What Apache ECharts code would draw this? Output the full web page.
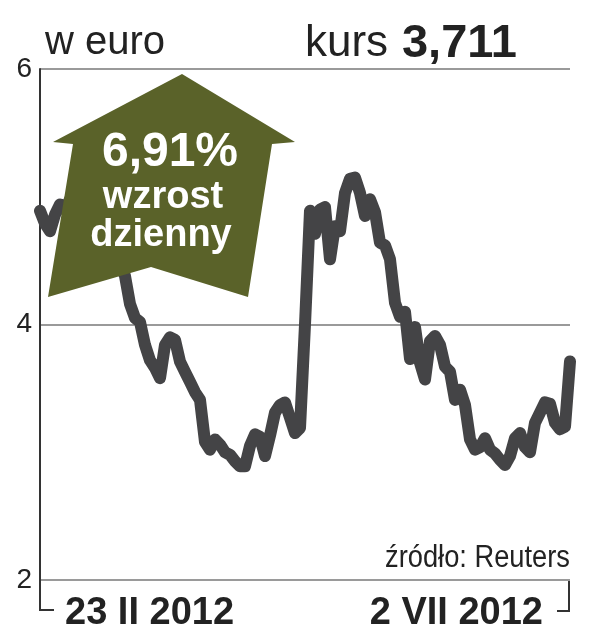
<!DOCTYPE html>
<html><head><meta charset="utf-8">
<script src="https://cdn.jsdelivr.net/npm/echarts@6/dist/echarts.min.js"></script>
<style>html,body{margin:0;padding:0;background:#fff}#c{width:605px;height:640px}</style>
</head><body><div id="c"></div>
<script>
// Share price in euro, 23 II 2012 - 2 VII 2012
const values = [
  4.89, 4.79, 4.73, 4.86, 4.94, 4.90, 4.98, 4.94, 4.86, 4.90,
  4.78, 4.74, 4.67, 4.71, 4.59, 4.51, 4.47, 4.38, 4.16, 4.05,
  4.02, 3.84, 3.72, 3.66, 3.58, 3.84, 3.90, 3.88, 3.71, 3.63,
  3.55, 3.47, 3.41, 3.08, 3.02, 3.10, 3.06, 3.00, 2.98, 2.93,
  2.89, 2.89, 3.05, 3.14, 3.12, 2.97, 3.13, 3.31, 3.37, 3.39,
  3.27, 3.15, 3.19, 4.00, 4.89, 4.71, 4.90, 4.92, 4.51, 4.77,
  4.73, 5.03, 5.14, 5.15, 5.03, 4.85, 4.98, 4.88, 4.64, 4.62,
  4.51, 4.17, 4.06, 4.10, 3.73, 3.98, 3.70, 3.57, 3.87, 3.91,
  3.84, 3.67, 3.63, 3.41, 3.49, 3.37, 3.10, 3.02, 3.04, 3.11,
  3.02, 2.99, 2.94, 2.90, 2.97, 3.11, 3.15, 3.04, 3.00, 3.23,
  3.31, 3.39, 3.38, 3.23, 3.18, 3.20, 3.711
];
const categories = values.map((_, i) => 'd' + i);
const yTicks = [2, 4, 6];
const dateLabels = ['23 II 2012', '2 VII 2012'];
const unitLabel = 'w euro';
const priceLabel = 'kurs';
const lastPrice = '3,711';
const changeLines = ['6,91%', 'wzrost', 'dzienny'];
const sourceLabel = 'źródło: Reuters';

const chart = echarts.init(document.getElementById('c'), null, {renderer: 'canvas'});
const dark = '#222222';
const option = {
  animation: false,
  backgroundColor: '#ffffff',
  grid: {left: 40, right: 35, top: 69, bottom: 60, containLabel: false},
  xAxis: {
    type: 'category', data: categories, boundaryGap: false,
    axisLine: {show: false}, axisTick: {show: false}, axisLabel: {show: false},
    splitLine: {show: false}
  },
  yAxis: {
    type: 'value', min: yTicks[0], max: yTicks[yTicks.length - 1], interval: 2,
    axisLine: {show: true, lineStyle: {color: '#333', width: 2}},
    axisTick: {show: false},
    axisLabel: {color: dark, fontSize: 28, fontFamily: 'Liberation Sans', margin: 8},
    splitLine: {show: true, lineStyle: {color: '#9a9a9a', width: 2}}
  },
  series: [{
    type: 'line', data: values, showSymbol: false, smooth: false, z: 3,
    lineStyle: {color: '#444446', width: 12, cap: 'round', join: 'round'}
  }],
  graphic: [
    {type: 'polyline', z: 5, shape: {points: [[40, 580], [40, 610], [54, 610]]},
     style: {stroke: '#333', lineWidth: 2, fill: null}},
    {type: 'polyline', z: 5, shape: {points: [[569, 581], [569, 611], [557, 611]]},
     style: {stroke: '#333', lineWidth: 2, fill: null}},
    {type: 'polygon', z: 10,
     shape: {points: [[182, 74], [295, 142], [272, 144], [248, 297], [151, 267], [48, 297], [73, 144], [53, 142]]},
     style: {fill: '#5a6229'}},
    {type: 'text', z: 11, style: {text: changeLines[0], x: 170, y: 153, textAlign: 'center', textVerticalAlign: 'middle',
      font: 'bold 48px "Liberation Sans"', fill: '#ffffff'}},
    {type: 'text', z: 11, style: {text: changeLines[1], x: 163, y: 198, textAlign: 'center', textVerticalAlign: 'middle',
      font: 'bold 38px "Liberation Sans"', fill: '#ffffff'}},
    {type: 'text', z: 11, style: {text: changeLines[2], x: 161, y: 236, textAlign: 'center', textVerticalAlign: 'middle',
      font: 'bold 38px "Liberation Sans"', fill: '#ffffff'}},
    {type: 'text', z: 11, style: {text: unitLabel, x: 45, y: 43, textAlign: 'left', textVerticalAlign: 'middle',
      font: '40px "Liberation Sans"', fill: dark}},
    {type: 'text', z: 11, style: {text: priceLabel, x: 305, y: 44, textAlign: 'left', textVerticalAlign: 'middle',
      font: '44px "Liberation Sans"', fill: dark}},
    {type: 'text', z: 11, style: {text: lastPrice, x: 517, y: 44, textAlign: 'right', textVerticalAlign: 'middle',
      font: 'bold 47px "Liberation Sans"', fill: dark}},
    {type: 'text', z: 11, x: 570, y: 558, scaleX: 0.88,
     style: {text: sourceLabel, x: 0, y: 0, textAlign: 'right', textVerticalAlign: 'middle',
      font: '31px "Liberation Sans"', fill: dark}},
    {type: 'text', z: 11, style: {text: dateLabels[0], x: 65, y: 614, textAlign: 'left', textVerticalAlign: 'middle',
      font: 'bold 38px "Liberation Sans"', fill: dark}},
    {type: 'text', z: 11, style: {text: dateLabels[1], x: 543, y: 614, textAlign: 'right', textVerticalAlign: 'middle',
      font: 'bold 38px "Liberation Sans"', fill: dark}}
  ]
};
chart.setOption(option);
</script></body></html>
